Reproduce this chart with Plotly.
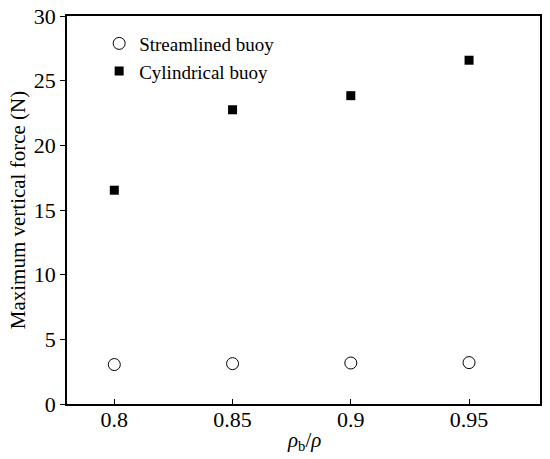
import plotly.graph_objects as go

# density ratio rho_b / rho
ratio = [0.8, 0.85, 0.9, 0.95]
ratio_labels = ['0.8', '0.85', '0.9', '0.95']

# maximum vertical force (N)
force_streamlined = [3.05, 3.12, 3.17, 3.2]
force_cylindrical = [16.53, 22.75, 23.84, 26.58]

FONT = "Liberation Serif"

fig = go.Figure()
fig.add_trace(go.Scatter(x=ratio, y=force_streamlined, mode='markers', name='Streamlined buoy',
                         marker=dict(symbol='circle-open', size=12, color='black',
                                     line=dict(width=1, color='black'))))
fig.add_trace(go.Scatter(x=ratio, y=force_cylindrical, mode='markers', name='Cylindrical buoy',
                         marker=dict(symbol='square', size=9, color='black')))

fig.update_layout(
    width=550, height=459,
    margin=dict(l=67, r=10, t=16, b=55),
    paper_bgcolor='white', plot_bgcolor='white',
    font=dict(family=FONT, size=21, color='black'),
    showlegend=True,
    legend=dict(x=0.068, y=0.978, xanchor='left', yanchor='top',
                bgcolor='rgba(0,0,0,0)', font=dict(size=19, family=FONT, color='black'),
                itemwidth=30, tracegroupgap=0),
)
fig.update_xaxes(range=[0.78, 0.98], tickvals=ratio, ticktext=ratio_labels,
                 tickfont=dict(family=FONT, size=22, color='black'),
                 ticks='inside', ticklen=5, tickcolor='black', ticklabelstandoff=-5,
                 showgrid=False, zeroline=False,
                 showline=True, linecolor='black', linewidth=1.5, mirror=True,
                 automargin=False)
fig.update_yaxes(range=[0, 30], dtick=5, ticks='outside', ticklen=5, tickcolor='black',
                 tickfont=dict(family=FONT, size=22, color='black'),
                 showgrid=False, zeroline=False,
                 showline=True, linecolor='black', linewidth=1.5, mirror=True,
                 automargin=False,
                 title=dict(text='Maximum vertical force (N)', standoff=2,
                            font=dict(family=FONT, size=21, color='black')))

# x-axis title as an annotation so it sits close to the tick labels
fig.add_annotation(text='<i>ρ</i><sub>b</sub>/<i>ρ</i>', xref='paper', yref='paper',
                   x=0.5, y=-0.095, xanchor='center', yanchor='middle', showarrow=False,
                   font=dict(family=FONT, size=21, color='black'))

fig.write_html("out.html", config={'displayModeBar': False},
               post_script="document.body.style.margin='0';")
